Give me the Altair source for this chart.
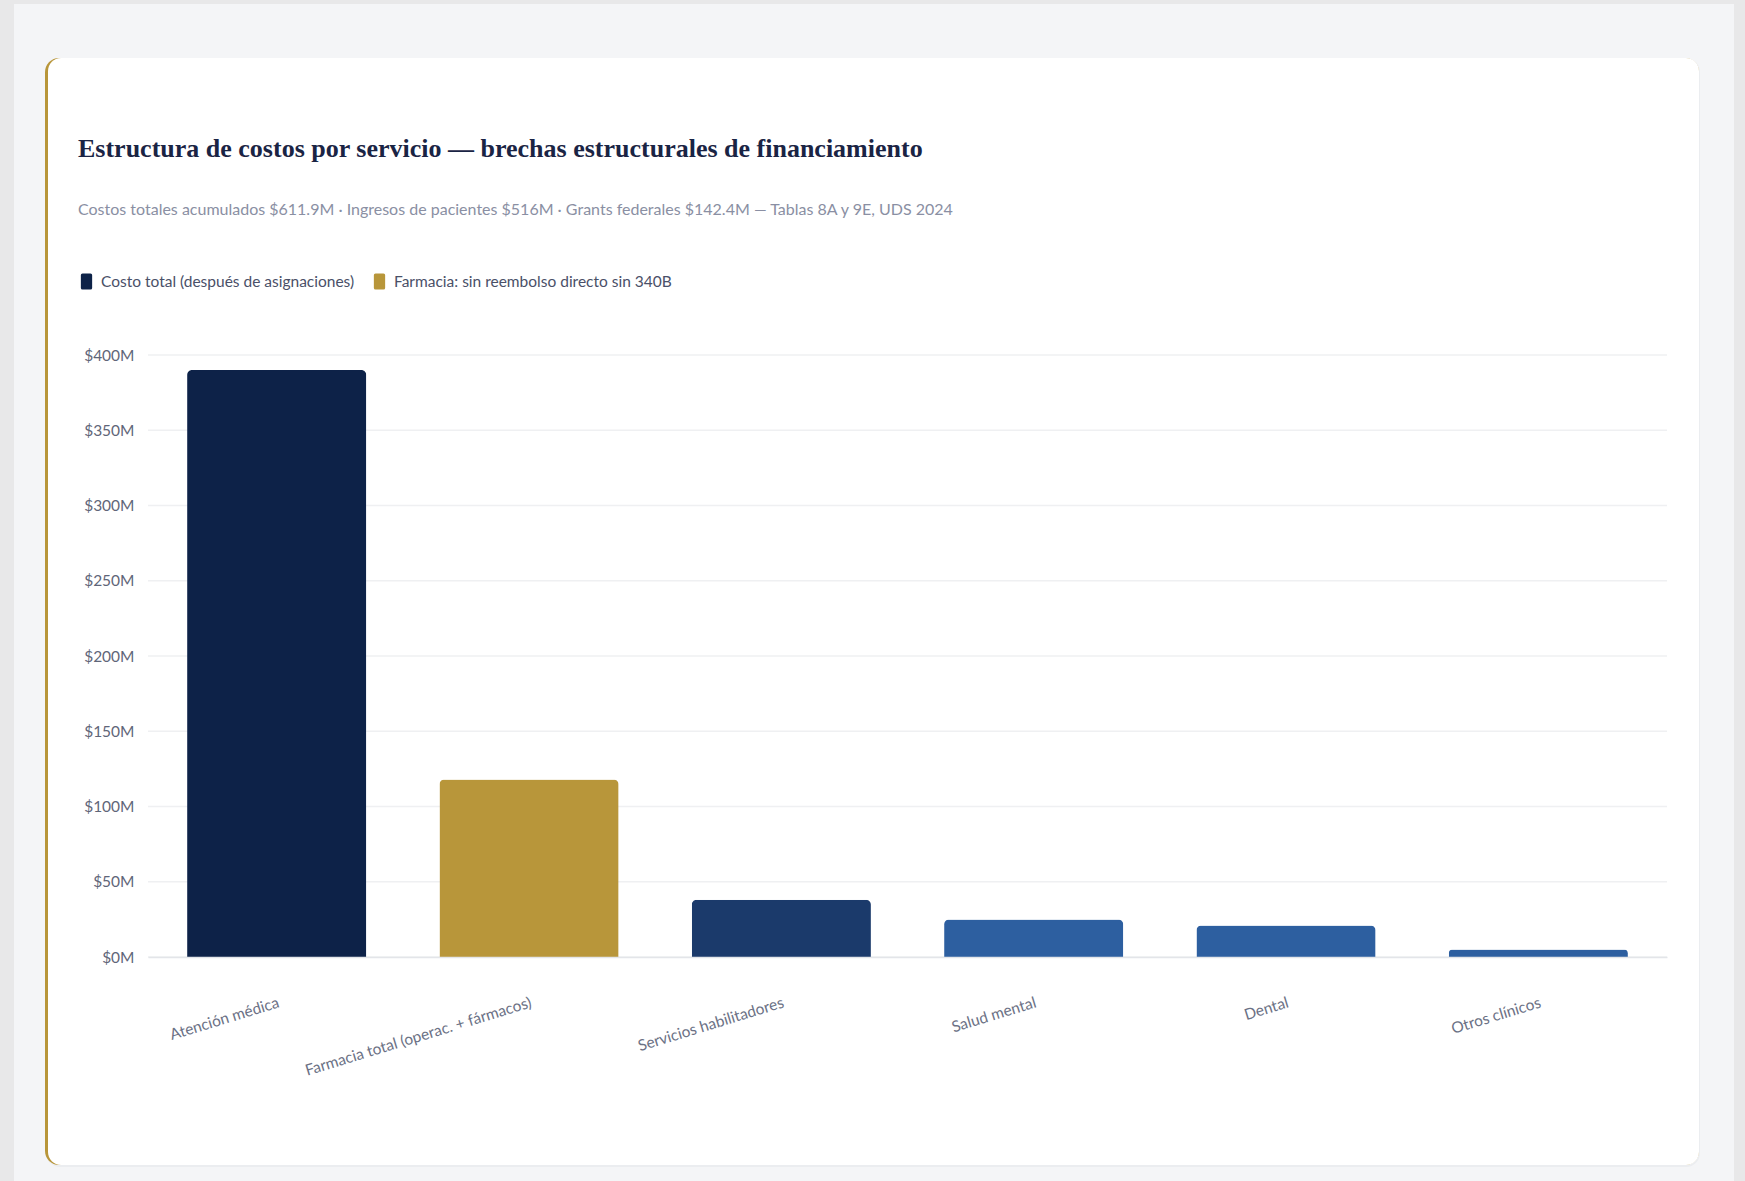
import altair as alt
import pandas as pd

# ---- data ----
servicios = ["Atención médica", "Farmacia total (operac. + fármacos)", "Servicios habilitadores",
             "Salud mental", "Dental", "Otros clínicos"]
costos_musd = [390, 118, 38, 25, 21, 5]
grupos = ["Costo total (después de asignaciones)", "Farmacia: sin reembolso directo sin 340B",
          "Servicios habilitadores", "Otros servicios",
          "Otros servicios", "Otros servicios"]
grupo_dominio = ["Costo total (después de asignaciones)", "Farmacia: sin reembolso directo sin 340B",
                 "Servicios habilitadores", "Otros servicios"]
grupo_colores = ["#0d2248", "#b8963a", "#1b3a6b", "#2d5fa0"]
leyenda = ["Costo total (después de asignaciones)", "Farmacia: sin reembolso directo sin 340B"]
y_ticks = [0, 50, 100, 150, 200, 250, 300, 350, 400]

titulo = "Estructura de costos por servicio — brechas estructurales de financiamiento"
subtitulo = "Costos totales acumulados $611.9M · Ingresos de pacientes $516M · Grants federales $142.4M — Tablas 8A y 9E, UDS 2024"

df = pd.DataFrame({"servicio": servicios, "costo": costos_musd, "grupo": grupos})
df_grid = pd.DataFrame({"costo": y_ticks})

# plot area origin in page coords
OX, OY = 148, 355
W, H = 1519, 602

def rect_layer(x0, x1, y0, y1, color, radius=0):
    return alt.Chart(pd.DataFrame({"k": [0]})).mark_rect(
        color=color, cornerRadius=radius
    ).encode(
        x=alt.value(x0 - OX), x2=alt.value(x1 - OX),
        y=alt.value(y0 - OY), y2=alt.value(y1 - OY),
    )

frame = [
    rect_layer(0, 1745, 0, 1181, "#e8e8e9"),
    rect_layer(14, 1734, 4, 1181, "#f4f5f7"),
    rect_layer(46, 1700, 58, 1167, "#ebedf0", 14),
    rect_layer(45, 1699, 58, 1165, "#b8963a", 14),
    rect_layer(48, 1699, 58, 1165, "#ffffff", 13),
]

yscale = alt.Scale(domain=[0, 400], nice=False)
yaxis = alt.Axis(title=None, values=y_ticks, labelExpr="'$' + datum.value + 'M'",
                 ticks=False, domain=False, grid=False,
                 labelPadding=14, labelColor="#5f6679", labelFontSize=15.5,
                 labelFont="Lato", zindex=1)

grid = alt.Chart(df_grid).mark_rule(color="#eff0f2", strokeWidth=1.3).encode(
    y=alt.Y("costo:Q", scale=yscale, axis=yaxis),
    x=alt.value(0), x2=alt.value(W),
)

bars = alt.Chart(df).mark_bar(
    cornerRadiusTopLeft=5, cornerRadiusTopRight=5
).encode(
    x=alt.X("servicio:N", sort=servicios,
            scale=alt.Scale(paddingInner=0.29, paddingOuter=0.155),
            axis=alt.Axis(title=None, labelAngle=343, labelAlign="right", labelBaseline="top",
                          labelPadding=38, ticks=False, domainColor="#e3e5e9", domainWidth=1.5,
                          labelColor="#6b7185", labelFontSize=15.5, labelFont="Lato",
                          labelLimit=500, grid=False, zindex=1)),
    y=alt.Y("costo:Q", scale=yscale, axis=yaxis),
    color=alt.Color("grupo:N",
                    scale=alt.Scale(domain=grupo_dominio, range=grupo_colores),
                    legend=alt.Legend(title=None, values=leyenda, orient="none",
                                      legendX=-70, legendY=-82, direction="horizontal",
                                      symbolType="M -0.5,-1 H 0.5 Q 0.7,-1 0.7,-0.8 V 0.8 Q 0.7,1 0.5,1 H -0.5 Q -0.7,1 -0.7,0.8 V -0.8 Q -0.7,-1 -0.5,-1 Z",
                                      symbolSize=260, symbolStrokeWidth=0, symbolOpacity=1,
                                      labelFontSize=15.5, labelFont="Lato", labelColor="#4a5068",
                                      labelLimit=500, columnPadding=16, labelOffset=6,
                                      zindex=1)),
)

chart = alt.layer(*frame, grid, bars).properties(
    width=W, height=H,
    autosize="none",
    padding={"left": OX, "top": OY, "right": 1745 - OX - W, "bottom": 1181 - OY - H},
    title=alt.TitleParams(
        text=titulo, subtitle=subtitulo, anchor="start", frame="group", dx=-70,
        offset=-218, font="Liberation Serif", fontSize=26, fontWeight="bold", color="#1a2444",
        subtitleFont="Lato", subtitleFontSize=16, subtitleColor="#8a8fa3", subtitlePadding=40,
        zindex=1,
    ),
).configure_view(stroke=None).configure(background="#f4f5f7")

chart.save("out.html", embed_options={"renderer": "svg", "actions": False})
